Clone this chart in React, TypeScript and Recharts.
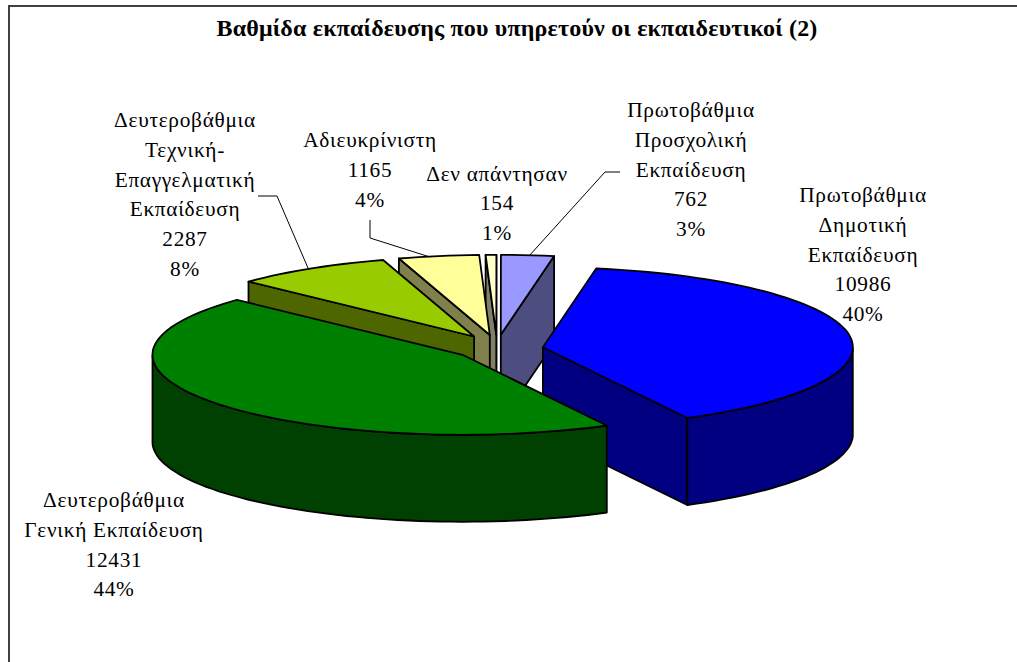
import { Pie, PieChart } from 'recharts'

const names = [
  ['Πρωτοβάθμια', 'Προσχολική', 'Εκπαίδευση'],
  ['Δεν απάντησαν'],
  ['Αδιευκρίνιστη'],
  ['Δευτεροβάθμια', 'Τεχνική-', 'Επαγγελματική', 'Εκπαίδευση'],
  ['Δευτεροβάθμια', 'Γενική Εκπαίδευση'],
  ['Πρωτοβάθμια', 'Δημοτική', 'Εκπαίδευση'],
]
const values = [762, 154, 1165, 2287, 12431, 10986]
const percents = ['3%', '1%', '4%', '8%', '44%', '40%']

const topColors = ['#9999FF', '#FFFFCC', '#FFFF99', '#99CC00', '#008000', '#0000FF']
const wallColors = ['#4D4D80', '#808066', '#80804D', '#4D6600', '#004000', '#000080']

// how far each slice is pulled out, extra nudges for the two big ones
const explode = 0.14
const nudgeX = [0, 0, 0, 0, 0, 3]
const nudgeY = [0, 0, 0, 0, 2, 3]

const labelX = [691, 497, 370, 185, 114, 863]
const labelY = [117, 180.5, 147, 127, 507, 202]
const leaders = [
  'M620 172H605L529 256',
  '',
  'M370 220V238L430 257',
  'M258 196H277L308 268',
  '',
  '',
]

const GREEN = 4
const SQUASH = 0.258
const DEPTH = 87
const FONT = '"Liberation Serif", "Times New Roman", serif'

const chartData = values.map((value, i) => ({ name: names[i].join(' '), value }))

const rad = (a: number) => (a * Math.PI) / 180
const toPath = (pts: number[][]) => 'M' + pts.map(p => `${p[0].toFixed(1)} ${p[1].toFixed(1)}`).join('L') + 'Z'

function SliceShape({ cx, cy, outerRadius, startAngle, endAngle, index, only }: any) {
  const idx = index ?? 0
  if ((idx === GREEN) !== only) return <g />

  const a0 = Math.min(startAngle, endAngle)
  const a1 = Math.max(startAngle, endAngle)
  const rx = outerRadius
  const ry = outerRadius * SQUASH
  const mid = (a0 + a1) / 2
  const ox = cx + explode * rx * Math.cos(rad(mid)) + nudgeX[idx]
  const oy = cy - explode * ry * Math.sin(rad(mid)) + nudgeY[idx]
  const at = (a: number) => [ox + rx * Math.cos(rad(a)), oy - ry * Math.sin(rad(a))]

  const arc: number[] = []
  const steps = Math.max(2, Math.ceil((a1 - a0) / 2))
  for (let i = 0; i <= steps; i++) arc.push(a0 + ((a1 - a0) * i) / steps)

  const face = (a: number) => {
    const p = at(a)
    return toPath([[ox, oy], p, [p[0], p[1] + DEPTH], [ox, oy + DEPTH]])
  }

  // outer wall: only the part of the rim that faces the viewer
  const front = arc.filter(a => Math.sin(rad(a)) <= 0)
  const rim = front.map(at)
  const wall = rim.length > 1 ? toPath([...rim, ...rim.map(p => [p[0], p[1] + DEPTH]).reverse()]) : null

  const stroke = { stroke: '#000', strokeWidth: 1.8, strokeLinejoin: 'round' as const }
  return (
    <g>
      {Math.sin(rad(a0 - 90)) < 0 && <path d={face(a0)} fill={wallColors[idx]} {...stroke} />}
      {Math.sin(rad(a1 + 90)) < 0 && <path d={face(a1)} fill={wallColors[idx]} {...stroke} />}
      {wall && <path d={wall} fill={wallColors[idx]} {...stroke} />}
      <path d={toPath([[ox, oy], ...arc.map(at)])} fill={topColors[idx]} {...stroke} />
    </g>
  )
}

function SliceLabel({ index }: any) {
  const lines = [...names[index], String(values[index]), percents[index]]
  return (
    <g>
      {leaders[index] && <path d={leaders[index]} fill="none" stroke="#000" strokeWidth={1} />}
      <text textAnchor="middle" fontFamily={FONT} fontSize={21.33} fill="#000" letterSpacing={0.7}>
        {lines.map((line, i) => (
          <tspan key={i} x={labelX[index]} y={labelY[index] + i * 29.8}>{line}</tspan>
        ))}
      </text>
    </g>
  )
}

const restShape = (p: any) => <SliceShape {...p} only={false} />
const greenShape = (p: any) => <SliceShape {...p} only={true} />

export default function App() {
  return (
    <div style={{ position: 'absolute', left: 0, top: 0, width: 1017, height: 662, overflow: 'hidden', background: '#fff' }}>
      <div style={{ position: 'absolute', left: 8, top: 5, width: 1017, height: 662, borderTop: '2px solid #404040', borderLeft: '2px solid #404040' }} />
      <div style={{ position: 'absolute', left: 0, top: 15, width: 1034, textAlign: 'center', fontFamily: FONT, fontWeight: 'bold', fontSize: 24, letterSpacing: 0.18, color: '#000' }}>
        Βαθμίδα εκπαίδευσης που υπηρετούν οι εκπαιδευτικοί (2)
      </div>
      <div style={{ position: 'absolute', left: 0, top: 0 }}>
        <PieChart width={1017} height={662} margin={{ top: 0, right: 0, bottom: 0, left: 0 }}>
          <Pie
            data={chartData}
            dataKey="value"
            nameKey="name"
            cx={497}
            cy={346}
            innerRadius={0}
            outerRadius={310}
            startAngle={80.1}
            endAngle={440.1}
            stroke="none"
            shape={restShape}
            activeShape={restShape}
            inactiveShape={restShape}
            label={SliceLabel}
            labelLine={false}
            isAnimationActive={false}
          />
          <Pie
            data={chartData}
            dataKey="value"
            nameKey="name"
            cx={497}
            cy={346}
            innerRadius={0}
            outerRadius={310}
            startAngle={80.1}
            endAngle={440.1}
            stroke="none"
            shape={greenShape}
            activeShape={greenShape}
            inactiveShape={greenShape}
            label={false}
            labelLine={false}
            isAnimationActive={false}
          />
        </PieChart>
      </div>
    </div>
  )
}
